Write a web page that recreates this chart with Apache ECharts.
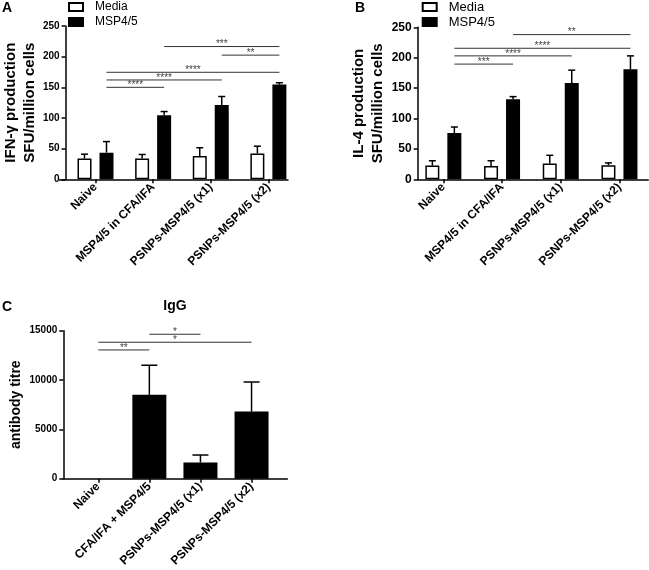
<!DOCTYPE html>
<html>
<head>
<meta charset="utf-8">
<script src="https://cdn.jsdelivr.net/npm/echarts@6/dist/echarts.min.js"></script>
<style>html,body{margin:0;padding:0;background:#fff}#c{width:649px;height:570px}</style>
</head>
<body>
<div id="c"></div>
<script>
// ---------- data ----------
const categoriesAB = ['Naive', 'MSP4/5 in CFA/IFA', 'PSNPs-MSP4/5 (x1)', 'PSNPs-MSP4/5 (x2)'];
const categoriesC = ['Naive', 'CFA/IFA + MSP4/5', 'PSNPs-MSP4/5 (x1)', 'PSNPs-MSP4/5 (x2)'];
const seriesNames = ['Media', 'MSP4/5'];

const ifnMedia = [34, 34, 38, 42];
const ifnMediaErr = [7, 6.5, 13.5, 12];
const ifnMsp = [43.5, 104.5, 121, 154.5];
const ifnMspErr = [18, 6, 14, 3];

const il4Media = [22.5, 22, 26, 23];
const il4MediaErr = [8, 8.5, 13.5, 4];
const il4Msp = [76, 131.5, 158.5, 181];
const il4MspErr = [10, 4.5, 21, 22];

const iggTitre = [0, 8500, 1650, 6800];
const iggErr = [0, 3000, 750, 3000];

// significance brackets: [fromIndex, toIndex, level, stars]
const sigA = [[0, 1, 150, '****'], [0, 2, 162, '****'], [0, 3, 174.5, '****'], [2, 3, 202.5, '**'], [1, 3, 216.5, '***']];
const sigB = [[0, 1, 189.5, '***'], [0, 2, 203, '****'], [0, 3, 215.5, '****'], [1, 3, 238, '**']];
const sigC = [[0, 1, 13050, '**'], [0, 3, 13830, '*'], [1, 2, 14640, '*']];

const ticksAB = {min: 0, max: 250, interval: 50};
const ticksC = {min: 0, max: 15000, interval: 5000};

// ---------- styling ----------
const FONT = '"Liberation Sans", Arial, Helvetica, sans-serif';
const BAR_W = 14, BAR_GAP = 8;
const OFF = (BAR_W + BAR_GAP) / 2;
const AX = {color: '#000', width: 1.5};

function errRender(off, capW) {
  return function (params, api) {
    const x = api.value(0), v = api.value(1), e = api.value(2);
    if (!(e > 0)) return null;
    const p0 = api.coord([x, v]);
    const p1 = api.coord([x, v + e]);
    const cx = p0[0] + off;
    return {
      type: 'group',
      children: [
        {type: 'line', shape: {x1: cx, y1: p0[1], x2: cx, y2: p1[1]}, style: {stroke: '#000', lineWidth: 1.5}},
        {type: 'line', shape: {x1: cx - capW / 2, y1: p1[1], x2: cx + capW / 2, y2: p1[1]}, style: {stroke: '#000', lineWidth: 1.5}}
      ]
    };
  };
}
function sigRender(list, off) {
  return function (params, api) {
    const s = list[params.dataIndex];
    const a = api.coord([s[0], s[2]]);
    const b = api.coord([s[1], s[2]]);
    const x1 = a[0] + off, x2 = b[0] + off, y = a[1];
    return {
      type: 'group',
      children: [
        {type: 'line', shape: {x1: x1, y1: y, x2: x2, y2: y}, style: {stroke: '#333', lineWidth: 1}},
        {type: 'text', style: {text: s[3], x: (x1 + x2) / 2, y: y - 2, align: 'center', verticalAlign: 'middle', fill: '#444', font: '10px ' + FONT}}
      ]
    };
  };
}
function errSeries(ax, vals, errs, off, capW) {
  return {type: 'custom', xAxisIndex: ax, yAxisIndex: ax, silent: true, z: 5,
    renderItem: errRender(off, capW), encode: {x: 0, y: 1},
    data: vals.map((v, i) => [i, v, errs[i]])};
}
function sigSeries(ax, list, off) {
  return {type: 'custom', xAxisIndex: ax, yAxisIndex: ax, silent: true, z: 6,
    renderItem: sigRender(list, off), encode: {x: [0, 1], y: 2},
    data: list.map(s => [s[0], s[1], s[2]])};
}
function dataX(grid, cats) {
  return {type: 'category', gridIndex: grid, data: cats,
    axisLine: {show: false},
    axisTick: {show: true, alignWithLabel: true, length: 4, lineStyle: AX},
    axisLabel: {interval: 0, rotate: 45, margin: 6, color: '#000', fontWeight: 'bold', fontSize: 12, fontFamily: FONT},
    splitLine: {show: false}};
}
function lineX(grid) {
  return {type: 'value', gridIndex: grid, min: 0, max: 1,
    axisLine: {show: true, lineStyle: AX}, axisTick: {show: false}, axisLabel: {show: false}, splitLine: {show: false}};
}
function dataY(grid, t, name, nameGap, labelSize, offset, nameSize) {
  return {type: 'value', gridIndex: grid, min: t.min, max: t.max, interval: t.interval, offset: offset,
    name: name, nameLocation: 'middle', nameGap: nameGap, nameRotate: 90,
    nameTextStyle: {fontWeight: 'bold', fontSize: nameSize, color: '#000', fontFamily: FONT, lineHeight: nameSize + 4},
    axisLine: {show: true, lineStyle: AX},
    axisTick: {show: true, length: 4, lineStyle: AX},
    axisLabel: {margin: 6, color: '#000', fontWeight: 'bold', fontSize: labelSize, fontFamily: FONT,
      formatter: v => String(v)},
    splitLine: {show: false}};
}
function lineY(grid) {
  return {type: 'value', gridIndex: grid, min: 0, max: 1, show: false};
}

const option = {
  animation: false,
  backgroundColor: '#fff',
  textStyle: {fontFamily: FONT},
  title: [
    {text: 'A', left: 2, top: 1, padding: 0, textStyle: {fontSize: 14, fontWeight: 'bold', color: '#000', fontFamily: FONT}},
    {text: 'B', left: 355, top: 1, padding: 0, textStyle: {fontSize: 14, fontWeight: 'bold', color: '#000', fontFamily: FONT}},
    {text: 'C', left: 2, top: 300, padding: 0, textStyle: {fontSize: 14, fontWeight: 'bold', color: '#000', fontFamily: FONT}},
    {text: 'IgG', left: 175, textAlign: 'center', top: 299, padding: 0, textStyle: {fontSize: 14, fontWeight: 'bold', color: '#000', fontFamily: FONT}}
  ],
  legend: [
    {left: 68, top: 0, orient: 'vertical', padding: 0, itemWidth: 14, itemHeight: 8, itemGap: 1, icon: 'rect', selectedMode: false,
      data: seriesNames, textStyle: {fontSize: 12, color: '#000', fontFamily: FONT, lineHeight: 14, padding: [0, 0, 0, 7]}},
    {left: 421.7, top: 0, orient: 'vertical', padding: 0, itemWidth: 14, itemHeight: 8, itemGap: 1, icon: 'rect', selectedMode: false,
      data: seriesNames, textStyle: {fontSize: 13, color: '#000', fontFamily: FONT, lineHeight: 14, padding: [0, 0, 0, 7]}}
  ],
  grid: [
    {left: 60.4, top: 26, width: 236.8, height: 153.3},
    {left: 59.3, top: 26, width: 228.7, height: 153.3},
    {left: 414, top: 27.3, width: 234.8, height: 152},
    {left: 417.7, top: 27.3, width: 230.6, height: 152},
    {left: 72.7, top: 330.7, width: 204.4, height: 148},
    {left: 63.3, top: 330.7, width: 224, height: 148}
  ],
  xAxis: [dataX(0, categoriesAB), lineX(1), dataX(2, categoriesAB), lineX(3), dataX(4, categoriesC), lineX(5)],
  yAxis: [
    dataY(0, ticksAB, 'IFN-γ production\nSFU/million cells', 26, 10, 1.1, 15), lineY(1),
    dataY(2, ticksAB, 'IL-4 production\nSFU/million cells', 30, 12, -3.7, 15), lineY(3),
    dataY(4, ticksC, 'antibody titre', 37, 10, 9.4, 14), lineY(5)
  ],
  series: [
    {type: 'bar', name: 'Media', xAxisIndex: 0, yAxisIndex: 0, data: ifnMedia, barWidth: BAR_W, barGap: (BAR_GAP / BAR_W * 100) + '%',
      itemStyle: {color: '#fff', borderColor: '#000', borderWidth: 1.5}},
    {type: 'bar', name: 'MSP4/5', xAxisIndex: 0, yAxisIndex: 0, data: ifnMsp, barWidth: BAR_W, barGap: (BAR_GAP / BAR_W * 100) + '%',
      itemStyle: {color: '#000', borderColor: '#000', borderWidth: 1.5}},
    errSeries(0, ifnMedia, ifnMediaErr, -OFF, 7),
    errSeries(0, ifnMsp, ifnMspErr, OFF, 7),
    sigSeries(0, sigA, OFF),

    {type: 'bar', name: 'Media', xAxisIndex: 2, yAxisIndex: 2, data: il4Media, barWidth: BAR_W, barGap: (BAR_GAP / BAR_W * 100) + '%',
      itemStyle: {color: '#fff', borderColor: '#000', borderWidth: 1.5}},
    {type: 'bar', name: 'MSP4/5', xAxisIndex: 2, yAxisIndex: 2, data: il4Msp, barWidth: BAR_W, barGap: (BAR_GAP / BAR_W * 100) + '%',
      itemStyle: {color: '#000', borderColor: '#000', borderWidth: 1.5}},
    errSeries(2, il4Media, il4MediaErr, -OFF, 7),
    errSeries(2, il4Msp, il4MspErr, OFF, 7),
    sigSeries(2, sigB, OFF),

    {type: 'bar', name: 'IgG', xAxisIndex: 4, yAxisIndex: 4, data: iggTitre, barWidth: 34,
      itemStyle: {color: '#000', borderWidth: 0}},
    errSeries(4, iggTitre, iggErr, 0, 16),
    sigSeries(4, sigC, 0)
  ]
};

const chart = echarts.init(document.getElementById('c'), null, {renderer: 'canvas'});
chart.setOption(option);
</script>
</body>
</html>
